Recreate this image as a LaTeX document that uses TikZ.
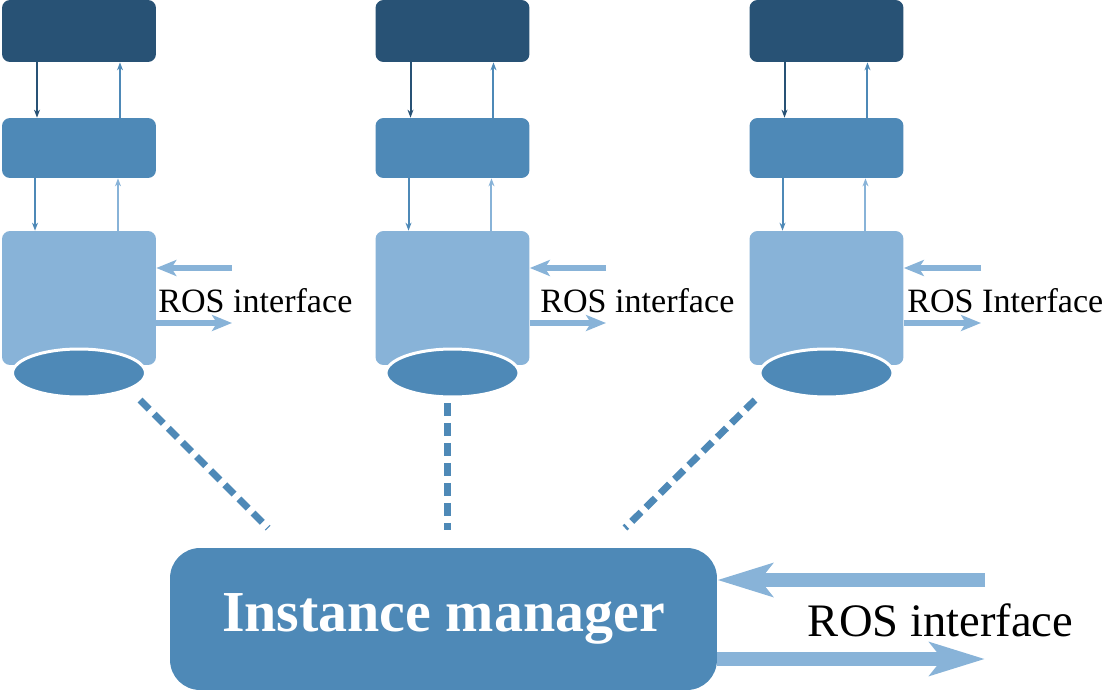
\documentclass[tikz,border=0pt]{standalone}
\usepackage{fontspec}
\setmainfont{Liberation Serif}
\usetikzlibrary{shapes.geometric}
\usetikzlibrary{arrows.meta}
\usetikzlibrary{positioning}

\definecolor{darkblue}{HTML}{285275}
\definecolor{midblue}{HTML}{4E89B7}
\definecolor{lightblue}{HTML}{88B3D8}

\begin{document}
\begin{tikzpicture}[
    x=0.02cm, y=-0.02cm
]
\tikzset{
    topbox/.style = {rectangle, rounded corners=0.16cm, fill=darkblue, minimum width=3.08cm, minimum height=1.24cm, inner sep=0},
    midbox/.style = {rectangle, rounded corners=0.16cm, fill=midblue, minimum width=3.08cm, minimum height=1.2cm, inner sep=0},
    bigbox/.style = {rectangle, rounded corners=0.16cm, fill=lightblue, minimum width=3.08cm, minimum height=2.68cm, inner sep=0},
    disc/.style = {ellipse, fill=midblue, draw=white, line width=0.06cm, minimum width=2.66cm, minimum height=0.96cm, inner sep=0},
    thinarrow/.style = {-{Stealth[length=0.16cm,width=0.12cm]}, line width=0.04cm},
    sidearrow/.style = {-{Stealth[length=0.4cm,width=0.32cm,inset=0.1cm]}, line width=0.12cm, lightblue},
    bigarrow/.style = {-{Stealth[length=1.1cm,width=0.66cm,inset=0.25cm]}, line width=0.28cm, lightblue},
    link/.style = {midblue, line width=0.14cm, dash pattern=on 0.26cm off 0.14cm},
    iflabel/.style = {anchor=west, inner sep=0, font=\fontsize{19.4}{23}\selectfont},
    manager/.style = {rectangle, rounded corners=0.6cm, fill=midblue, minimum width=10.94cm, minimum height=2.84cm, text=white, font=\fontsize{33}{38}\selectfont\bfseries}
}
\useasboundingbox (0,0) rectangle (1107,700);

% first column
\node[topbox] at (79,31) (t1) {};
\node[midbox] at (79,148) (m1) {};
\node[bigbox] at (79,298) (b1) {};
\node[disc] at (79,373) (e1) {};
\draw[thinarrow, darkblue] ([xshift=-0.84cm]t1.south) -- ([xshift=-0.84cm]m1.north);
\draw[thinarrow, midblue] ([xshift=0.82cm]m1.north) -- ([xshift=0.82cm]t1.south);
\draw[thinarrow, midblue] ([xshift=-0.88cm]m1.south) -- ([xshift=-0.88cm]b1.north);
\draw[thinarrow, lightblue] ([xshift=0.78cm]b1.north) -- ([xshift=0.78cm]m1.south);
\coordinate (in1) at (232,268);
\coordinate (out1) at (232,323);
\draw[sidearrow] (in1) -- (in1 -| b1.east);
\draw[sidearrow] (out1 -| b1.east) -- (out1);
\node[iflabel] at (158,301) (l1) {ROS interface};

% second column
\node[topbox] at (452.5,31) (t2) {};
\node[midbox] at (452.5,148) (m2) {};
\node[bigbox] at (452.5,298) (b2) {};
\node[disc] at (452.5,373) (e2) {};
\draw[thinarrow, darkblue] ([xshift=-0.84cm]t2.south) -- ([xshift=-0.84cm]m2.north);
\draw[thinarrow, midblue] ([xshift=0.82cm]m2.north) -- ([xshift=0.82cm]t2.south);
\draw[thinarrow, midblue] ([xshift=-0.88cm]m2.south) -- ([xshift=-0.88cm]b2.north);
\draw[thinarrow, lightblue] ([xshift=0.78cm]b2.north) -- ([xshift=0.78cm]m2.south);
\coordinate (in2) at (606,268);
\coordinate (out2) at (606,323);
\draw[sidearrow] (in2) -- (in2 -| b2.east);
\draw[sidearrow] (out2 -| b2.east) -- (out2);
\node[iflabel] at (540,301) (l2) {ROS interface};

% third column
\node[topbox] at (826.5,31) (t3) {};
\node[midbox] at (826.5,148) (m3) {};
\node[bigbox] at (826.5,298) (b3) {};
\node[disc] at (826.5,373) (e3) {};
\draw[thinarrow, darkblue] ([xshift=-0.84cm]t3.south) -- ([xshift=-0.84cm]m3.north);
\draw[thinarrow, midblue] ([xshift=0.82cm]m3.north) -- ([xshift=0.82cm]t3.south);
\draw[thinarrow, midblue] ([xshift=-0.88cm]m3.south) -- ([xshift=-0.88cm]b3.north);
\draw[thinarrow, lightblue] ([xshift=0.78cm]b3.north) -- ([xshift=0.78cm]m3.south);
\coordinate (in3) at (981,268);
\coordinate (out3) at (981,323);
\draw[sidearrow] (in3) -- (in3 -| b3.east);
\draw[sidearrow] (out3 -| b3.east) -- (out3);
\node[iflabel] at (907,301) (l3) {ROS Interface};

% instance manager
\node[manager] at (443.5,619) (im) {Instance manager};
\coordinate (d1) at (140,400);
\coordinate (d2) at (447,403);
\coordinate (d3) at (755,400);
\coordinate (k1) at (268,528);
\coordinate (k2) at (447,530);
\coordinate (k3) at (625,528);
\draw[link] (d1) -- (k1);
\draw[link] (d2) -- (k2);
\draw[link] (d3) -- (k3);
\coordinate (imin) at (985,580);
\coordinate (imout) at (985,659);
\draw[bigarrow] (imin) -- (imin -| im.east);
\draw[bigarrow] (imout -| im.east) -- (imout);
\node[font=\fontsize{26.5}{32}\selectfont, inner sep=0] at (940.5,620) (lim) {ROS interface};
\end{tikzpicture}
\end{document}
